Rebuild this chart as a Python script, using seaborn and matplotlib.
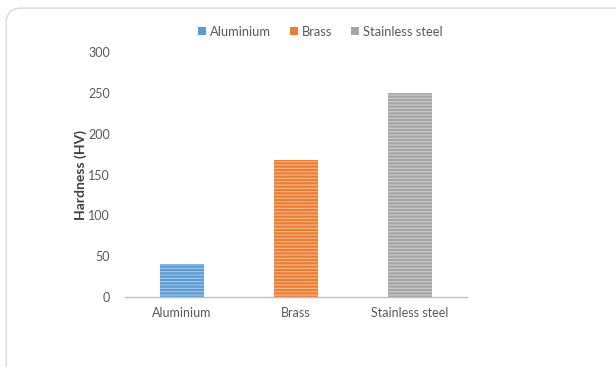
import matplotlib
matplotlib.use("Agg")
import matplotlib.pyplot as plt
import seaborn as sns
import pandas as pd
from matplotlib.patches import FancyBboxPatch, Patch

categories = ["Aluminium", "Brass", "Stainless steel"]
hardness = [40, 168, 250]
colors = ["#5B9BD5", "#ED7D31", "#A5A5A5"]
yticks = [0, 50, 100, 150, 200, 250, 300]

sns.set_theme(style="white")
plt.rcParams['font.family'] = ['Lato', 'DejaVu Sans']
plt.rcParams['hatch.color'] = (1, 1, 1, 0.45)
plt.rcParams['hatch.linewidth'] = 0.8

df = pd.DataFrame({"Material": categories, "Hardness": hardness})

fig = plt.figure(figsize=(6.16, 3.67), dpi=100)
ax = fig.add_axes([0.203, 0.191, 0.555, 0.667])

sns.barplot(data=df, x="Material", y="Hardness", hue="Material",
            palette=colors, width=0.39, ax=ax, legend=False, saturation=1)
for p in ax.patches:
    p.set_hatch("-----")
    p.set_edgecolor((1, 1, 1, 0.45))
    p.set_linewidth(0)

ax.set_ylim(0, 300)
ax.set_xlim(-0.5, 2.5)
ax.set_yticks(yticks)
ax.set_xlabel("")
ax.set_ylabel("Hardness (HV)", fontsize=10, color="#404040", fontweight="bold", labelpad=1)
ax.tick_params(axis="y", labelsize=9, colors="#595959", length=0, pad=11)
ax.tick_params(axis="x", labelsize=9, colors="#595959", length=0, pad=7)
for s in ["top", "right", "left"]:
    ax.spines[s].set_visible(False)
ax.spines["bottom"].set_color("#BFBFBF")
ax.spines["bottom"].set_linewidth(1)

handles = [Patch(facecolor=c, edgecolor="none") for c in colors]
fig.legend(handles, categories, loc="center", bbox_to_anchor=(0.52, 0.913), ncol=3,
           frameon=False, fontsize=9.3, handlelength=0.6, handleheight=0.6,
           handletextpad=0.3, columnspacing=1.5, labelcolor="#595959")

border = FancyBboxPatch((0.01, -0.1), 1.2, 1.078, boxstyle="round,pad=0,rounding_size=0.025",
                        transform=fig.transFigure, facecolor="none", edgecolor="#D9D9D9",
                        linewidth=1.0, mutation_aspect=616/367)
fig.patches.append(border)

fig.savefig("out.png", dpi=100)
